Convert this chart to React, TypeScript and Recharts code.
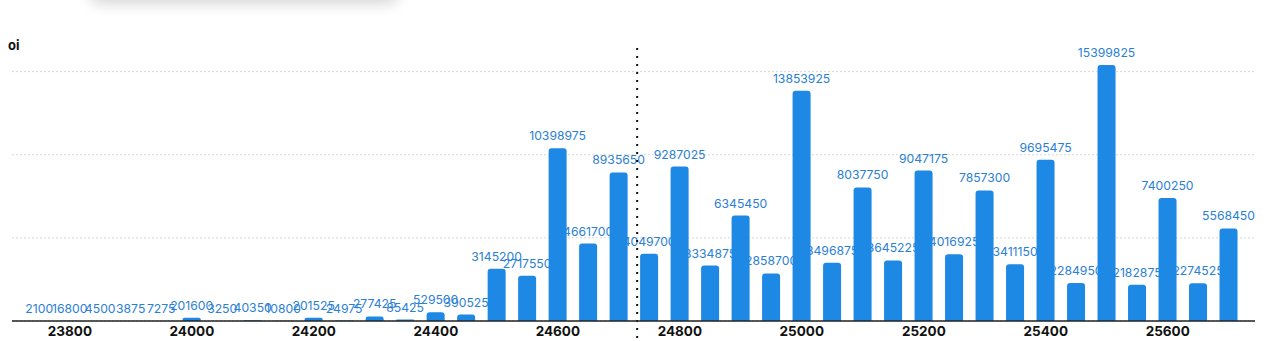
import React from "react";
import {
  BarChart,
  Bar,
  XAxis,
  YAxis,
  CartesianGrid,
  ReferenceLine,
} from "recharts";

// strike prices on the x axis
const strikes = [
  23750, 23800, 23850, 23900, 23950, 24000, 24050, 24100, 24150, 24200,
  24250, 24300, 24350, 24400, 24450, 24500, 24550, 24600, 24650, 24700,
  24750, 24800, 24850, 24900, 24950, 25000, 25050, 25100, 25150, 25200,
  25250, 25300, 25350, 25400, 25450, 25500, 25550, 25600, 25650, 25700,
];

// open interest per strike
const oiValues = [
  2100, 16800, 4500, 3875, 7275, 201600, 3250, 40350, 10800, 201525,
  24975, 277425, 85425, 529500, 390525, 3145200, 2717550, 10398975, 4661700, 8935650,
  4049700, 9287025, 3334875, 6345450, 2858700, 13853925, 3496875, 8037750, 3645225, 9047175,
  4016925, 7857300, 3411150, 9695475, 2284950, 15399825, 2182875, 7400250, 2274525, 5568450,
];

const xTicks = [23800, 24000, 24200, 24400, 24600, 24800, 25000, 25200, 25400, 25600];
const gridTicks = [0, 5000000, 10000000, 15000000];
const spotStrike = 24730;
const xDomain = [23705, 25743];

const data = strikes.map((strike, i) => ({ strike, oi: oiValues[i] }));

const BAR_COLOR = "#1e88e5";
const LABEL_COLOR = "#2a80d4";
const FONT = "Inter, 'Open Sans', sans-serif";

// value labels are drawn by a first (invisible) bar series so the real bars sit on top of them
const LabelShape = (props: any) => {
  const { x, y, width, payload } = props;
  const v = payload ? payload.oi : props.value;
  return (
    <text
      x={x + width / 2}
      y={y - 8}
      textAnchor="middle"
      fill={LABEL_COLOR}
      fontSize={12.2}
      fontFamily={FONT}
    >
      {v}
    </text>
  );
};

const SpotLine = (props: any) => (
  <line
    x1={props.x1}
    x2={props.x2}
    y1={Math.min(props.y1, props.y2) - 17}
    y2={Math.max(props.y1, props.y2) + 19}
    stroke="#111"
    strokeWidth={2}
    strokeDasharray="2 6"
  />
);

export default function App() {
  return (
    <div
      style={{
        position: "absolute",
        left: 0,
        top: 0,
        width: 1269,
        height: 341,
        overflow: "hidden",
        background: "#fff",
        fontFamily: FONT,
      }}
    >
      {/* shadow of a card sitting above the chart */}
      <div
        style={{
          position: "absolute",
          left: 90,
          top: -34,
          width: 308,
          height: 34,
          borderRadius: 10,
          background: "#fff",
          boxShadow: "0 4px 14px rgba(0,0,0,0.16)",
        }}
      />

      <div
        style={{
          position: "absolute",
          left: 8,
          top: 37,
          fontSize: 13,
          fontWeight: 700,
          color: "#111",
        }}
      >
        oi
      </div>

      <BarChart
        width={1269}
        height={341}
        data={data}
        margin={{ top: 65, right: 14, bottom: 0, left: 12 }}
      >
        <CartesianGrid
          vertical={false}
          horizontalValues={gridTicks}
          stroke="#d6d6d6"
          strokeDasharray="2 2"
        />
        <XAxis xAxisId="lab" dataKey="strike" type="number" domain={xDomain} hide />
        <XAxis
          dataKey="strike"
          type="number"
          domain={xDomain}
          ticks={xTicks}
          height={20}
          tickLine={false}
          tickSize={3}
          tickMargin={2}
          axisLine={{ stroke: "#222", strokeWidth: 1.5 }}
          tick={{ fill: "#111", fontSize: 13.5, fontWeight: 700, fontFamily: FONT }}
        />
        <YAxis hide domain={[0, "dataMax"]} ticks={gridTicks} />
        <Bar
          xAxisId="lab"
          dataKey="oi"
          barSize={18}
          shape={LabelShape}
          isAnimationActive={false}
        />
        <Bar
          dataKey="oi"
          barSize={18}
          fill={BAR_COLOR}
          radius={[3, 3, 0, 0]}
          isAnimationActive={false}
        />
        <ReferenceLine x={spotStrike} shape={SpotLine} />
      </BarChart>
    </div>
  );
}
